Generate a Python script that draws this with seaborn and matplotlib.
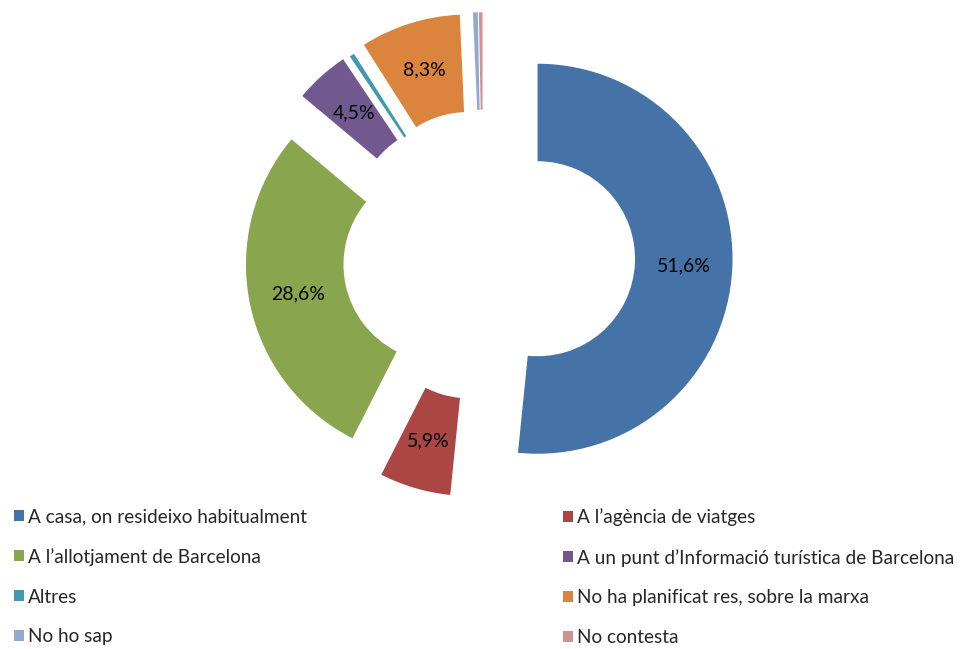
import matplotlib
matplotlib.use("Agg")
import matplotlib.pyplot as plt
from matplotlib.patches import Patch
import seaborn as sns

# === dades ===
categories = [
    "A casa, on resideixo habitualment",
    "A l\u2019agència de viatges",
    "A l\u2019allotjament de Barcelona",
    "A un punt d\u2019Informació turística de Barcelona",
    "Altres",
    "No ha planificat res, sobre la marxa",
    "No ho sap",
    "No contesta",
]
percentatges = [51.6, 5.9, 28.6, 4.5, 0.4, 8.3, 0.4, 0.3]
explode = [0.28, 0.24, 0.22, 0.24, 0.23, 0.25, 0.25, 0.25]
colors = sns.color_palette(["#4572A7", "#AA4643", "#89A54E", "#71588F",
                            "#4198AF", "#DB843D", "#93A9CF", "#D19392"])

sns.set_theme(style="white")
plt.rcParams["font.family"] = ["Lato", "DejaVu Sans"]

W, H = 974, 649
cx, cy, R = 483, 256, 195   # centre i radi del donut (px)

fig = plt.figure(figsize=(W / 100, H / 100), dpi=100)
ax = fig.add_axes([0, 0, 1, 1])


def fmt_pct(p):
    if p < 1:
        return ""
    return f"{p:.1f}%".replace(".", ",")


wedges, _, autotexts = ax.pie(
    percentatges,
    colors=colors,
    explode=explode,
    startangle=90,
    counterclock=False,
    autopct=fmt_pct,
    pctdistance=0.75,
    wedgeprops={"width": 0.5, "linewidth": 0},
    textprops={"fontsize": 14, "color": "black"},
)

ax.set_xlim(-cx / R, (W - cx) / R)
ax.set_ylim(-(H - cy) / R, cy / R)
ax.axis("off")

# === llegenda en dues columnes ===
handles = [Patch(facecolor=c, edgecolor="none") for c in colors]
col1 = [0, 2, 4, 6]
col2 = [1, 3, 5, 7]
for idx, x0 in [(col1, 14), (col2, 563)]:
    fig.legend(
        [handles[i] for i in idx],
        [categories[i] for i in idx],
        loc="upper left",
        bbox_to_anchor=(x0 / W, 1 - 508 / H),
        frameon=False,
        fontsize=13.7,
        handlelength=0.5,
        handleheight=0.5,
        handletextpad=0.25,
        labelspacing=1.2,
        borderpad=0,
        borderaxespad=0,
    )

fig.savefig("out.png", dpi=100)
